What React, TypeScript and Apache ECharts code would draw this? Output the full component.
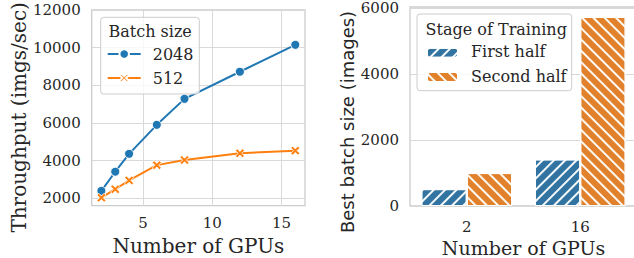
import React, { useEffect, useRef } from "react";
import * as echarts from "echarts";

const gpus = [2, 3, 4, 6, 8, 12, 16];
const thr2048 = [2390, 3410, 4360, 5900, 7280, 8720, 10150];
const thr512 = [2030, 2480, 2950, 3760, 4030, 4390, 4530];
const leftXTicks = [5, 10, 15];
const leftYTicks = [2000, 4000, 6000, 8000, 10000, 12000];

const barCats = ["2", "16"];
const firstHalf = [512, 1415];
const secondHalf = [1000, 5740];
const rightYTicks = [0, 2000, 4000, 6000];

const FONT = "DejaVu Serif";
const SANS = "DejaVu Sans";
const TXT = "#262626";
const GRID = "#d9d9d9";
const FRAME = "#cccccc";
const XPATH =
  "path://M0,2 L2,0 L5,3 L8,0 L10,2 L7,5 L10,8 L8,10 L5,7 L2,10 L0,8 L3,5 Z";

export default function App() {
  const ref = useRef<HTMLDivElement>(null);
  useEffect(() => {
    const chart = echarts.init(ref.current!, null, { renderer: "svg" });
    const plain = (v: number) => String(v);
    const tick = { fontFamily: FONT, fontSize: 15, color: TXT, formatter: plain };
    const nameStyle = { fontFamily: FONT, fontSize: 20, color: TXT };
    const decalA = {
      symbol: "rect",
      symbolSize: 1,
      color: "rgba(255,255,255,0.95)",
      dashArrayX: [1, 0],
      dashArrayY: [1.5, 5.5],
      rotation: -Math.PI / 4,
    };
    const decalB = { ...decalA, rotation: Math.PI / 4 };
    const iconLegend = (name: string, left: number, top: number, w: number, h: number) => ({
      data: [name],
      orient: "vertical", left, top, padding: 0, itemGap: 0,
      itemWidth: w, itemHeight: h, z: 11,
      formatter: () => "",
      textStyle: { fontSize: 6 },
    });
    const label = (text: string, left: number, top: number) => ({
      type: "text", left, top, z: 12,
      style: { text, font: "16px DejaVu Serif", fill: TXT },
    });
    chart.setOption({
      animation: false,
      backgroundColor: "#ffffff",
      grid: [
        {
          left: 91.7, top: 10, width: 213.3, height: 195.7, outerBoundsMode: "none",
          show: true, borderColor: FRAME, borderWidth: 1.3, backgroundColor: "transparent",
        },
        {
          left: 410, top: 7, width: 227, height: 199, outerBoundsMode: "none",
          show: true, borderColor: FRAME, borderWidth: 1.3, backgroundColor: "transparent",
        },
      ],
      xAxis: [
        {
          type: "value", gridIndex: 0, min: 1.3, max: 16.7,
          axisLine: { show: false },
          axisTick: { show: false, customValues: leftXTicks },
          axisLabel: { ...tick, margin: 10, customValues: leftXTicks },
          splitLine: { show: true, lineStyle: { color: GRID, width: 1 } },
          name: "Number of GPUs", nameLocation: "middle", nameGap: 29, nameTextStyle: nameStyle,
        },
        {
          type: "category", gridIndex: 1, data: barCats,
          axisLine: { show: false }, axisTick: { show: false },
          axisLabel: { fontFamily: FONT, fontSize: 15, color: TXT, margin: 13 },
          splitLine: { show: false },
          name: "Number of GPUs", nameLocation: "middle", nameGap: 26,
          nameTextStyle: { ...nameStyle, fontSize: 19 },
        },
      ],
      yAxis: [
        {
          type: "value", gridIndex: 0, min: 1605, max: 12000,
          axisLine: { show: false },
          axisTick: { show: false, customValues: leftYTicks },
          axisLabel: { ...tick, margin: 11, customValues: leftYTicks },
          splitLine: { show: true, lineStyle: { color: GRID, width: 1 } },
          name: "Throughput (imgs/sec)", nameLocation: "middle", nameGap: 63,
          nameTextStyle: { ...nameStyle, padding: [0, 19, 0, 0] },
        },
        {
          type: "value", gridIndex: 1, min: 0, max: 6040,
          axisLine: { show: false },
          axisTick: { show: false, customValues: rightYTicks },
          axisLabel: { ...tick, margin: 11, customValues: rightYTicks },
          splitLine: { show: true, lineStyle: { color: GRID, width: 1 } },
          name: "Best batch size (images)", nameLocation: "middle", nameGap: 53,
          nameTextStyle: { fontFamily: SANS, fontSize: 18, color: TXT, padding: [0, 31, 0, 0] },
        },
      ],
      legend: [
        iconLegend("2048", 106.7, 48, 33, 12),
        iconLegend("512", 106.7, 72, 33, 12),
        iconLegend("First half", 426, 46.7, 31, 10),
        iconLegend("Second half", 426, 71, 31, 10),
      ],
      graphic: [
        {
          type: "rect", z: 10,
          shape: { x: 100.7, y: 17.3, width: 98.6, height: 76.7, r: 3 },
          style: { fill: "rgba(255,255,255,0.8)", stroke: FRAME, lineWidth: 1 },
        },
        {
          type: "rect", z: 10,
          shape: { x: 417, y: 14, width: 154.7, height: 76.7, r: 3 },
          style: { fill: "rgba(255,255,255,0.8)", stroke: FRAME, lineWidth: 1 },
        },
        label("Batch size", 108.5, 23.5),
        label("2048", 152.7, 46),
        label("512", 152.7, 70),
        label("Stage of Training", 425.6, 21),
        label("First half", 471, 43.7),
        label("Second half", 471, 68),
      ],
      series: [
        {
          name: "2048", type: "line", xAxisIndex: 0, yAxisIndex: 0,
          data: gpus.map((g, i) => [g, thr2048[i]]),
          symbol: "circle", symbolSize: 9,
          lineStyle: { color: "#1f77b4", width: 2 },
          itemStyle: { color: "#1f77b4", borderColor: "#ffffff", borderWidth: 1 },
          z: 5,
        },
        {
          name: "512", type: "line", xAxisIndex: 0, yAxisIndex: 0,
          data: gpus.map((g, i) => [g, thr512[i]]),
          symbol: XPATH, symbolSize: 9,
          lineStyle: { color: "#ff7f0e", width: 2 },
          itemStyle: { color: "#ff7f0e", borderColor: "#ffffff", borderWidth: 0.8 },
          z: 5,
        },
        {
          name: "First half", type: "bar", xAxisIndex: 1, yAxisIndex: 1,
          data: firstHalf, barWidth: "40%", barGap: "0%",
          itemStyle: { color: "#3274a1", borderColor: "#ffffff", borderWidth: 1, decal: decalA },
        },
        {
          name: "Second half", type: "bar", xAxisIndex: 1, yAxisIndex: 1,
          data: secondHalf, barWidth: "40%", barGap: "0%",
          itemStyle: { color: "#e1812c", borderColor: "#ffffff", borderWidth: 1, decal: decalB },
        },
      ],
    });
    return () => chart.dispose();
  }, []);
  return <div ref={ref} style={{ width: 634, height: 258, position: "absolute", left: 0, top: 0 }} />;
}
